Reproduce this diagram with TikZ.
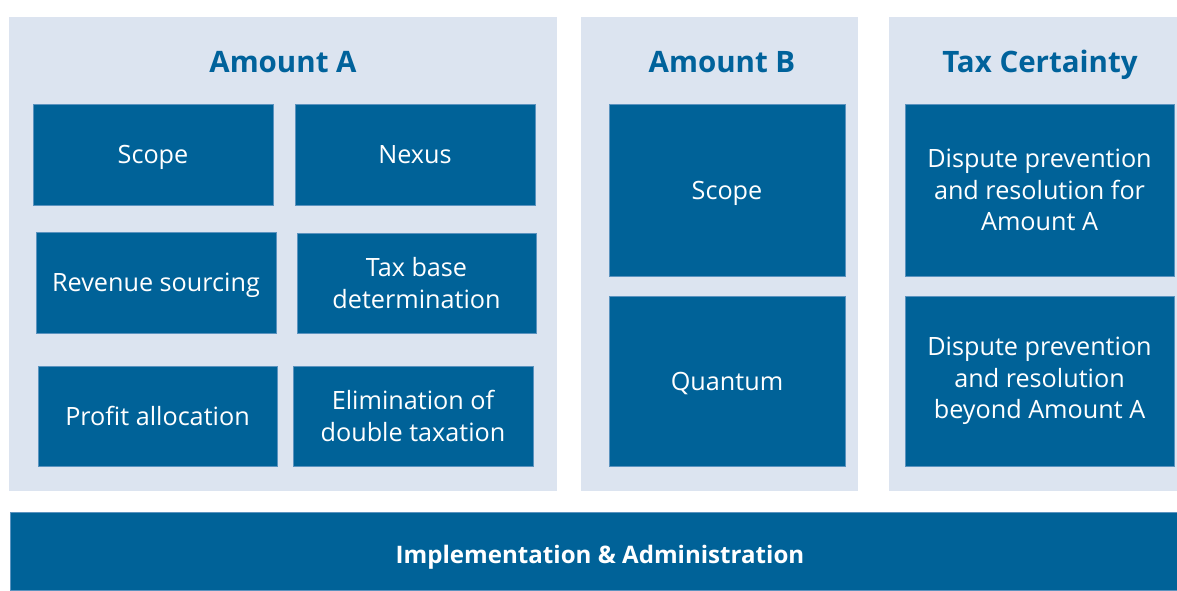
\documentclass[tikz,border=0pt]{standalone}
\usepackage{fontspec}
\setmainfont{Open Sans}
\definecolor{panelbg}{HTML}{DCE4F0}
\definecolor{cellbg}{HTML}{006298}
\definecolor{celledge}{HTML}{5B93BF}
\definecolor{titleblue}{HTML}{00629B}
\begin{document}
\begin{tikzpicture}[x=1pt,y=-1pt,
  panel/.style={fill=panelbg, draw=none},
  cell/.style={fill=cellbg, draw=celledge, line width=0.6pt, text=white, align=center, inner sep=0pt,
    font=\fontsize{25.2}{31.5}\selectfont},
  oneline/.style={cell, text height=18pt, text depth=0pt},
  title/.style={text=titleblue, font=\fontsize{29.5}{32}\selectfont\bfseries, inner sep=0pt, anchor=base},
  barstyle/.style={fill=cellbg, draw=celledge, line width=0.6pt, inner sep=0pt},
  bartext/.style={text=white, inner sep=0pt, anchor=base, font=\fontsize{24.1}{28}\selectfont\bfseries}]
\useasboundingbox (0,0) rectangle (1177,590);
% panels
\fill[panel] (9,17) rectangle (557,491);
\fill[panel] (581,17) rectangle (858,491);
\fill[panel] (889,17) rectangle (1177,491);
% titles
\node[title] (tA) at (283,72) {Amount A};
\node[title] (tB) at (722,72) {Amount B};
\node[title] (tC) at (1040,72) {Tax Certainty};
% Amount A cells
\node[oneline, minimum width=240pt, minimum height=101pt] (a1) at (153,154.5) {Scope};
\node[oneline, minimum width=240pt, minimum height=101pt] (a2) at (415,154.5) {Nexus};
\node[oneline, minimum width=240pt, minimum height=101pt] (a3) at (156,282.5) {Revenue sourcing};
\node[cell, minimum width=239pt, minimum height=100pt] (a4) at (416.5,283) {Tax base\\determination};
\node[oneline, minimum width=239pt, minimum height=100pt] (a5) at (157.5,416) {Profit allocation};
\node[cell, minimum width=240pt, minimum height=100pt] (a6) at (413,416) {Elimination of\\double taxation};
% Amount B cells
\node[oneline, minimum width=236pt, minimum height=172pt] (b1) at (727,190) {Scope};
\node[oneline, minimum width=236pt, minimum height=170pt] (b2) at (727,381) {Quantum};
% Tax certainty cells
\node[cell, minimum width=269pt, minimum height=172pt] (c1) at (1039.5,190) {Dispute prevention\\and resolution for\\Amount A};
\node[cell, minimum width=269pt, minimum height=170pt] (c2) at (1039.5,381) {Dispute prevention\\and resolution\\beyond Amount A};
% bottom bar
\node[barstyle, minimum width=1167pt, minimum height=78pt] (bar) at (593.5,551) {};
\node[bartext] (bartxt) at (600,563) {Implementation \& Administration};
\end{tikzpicture}
\end{document}
